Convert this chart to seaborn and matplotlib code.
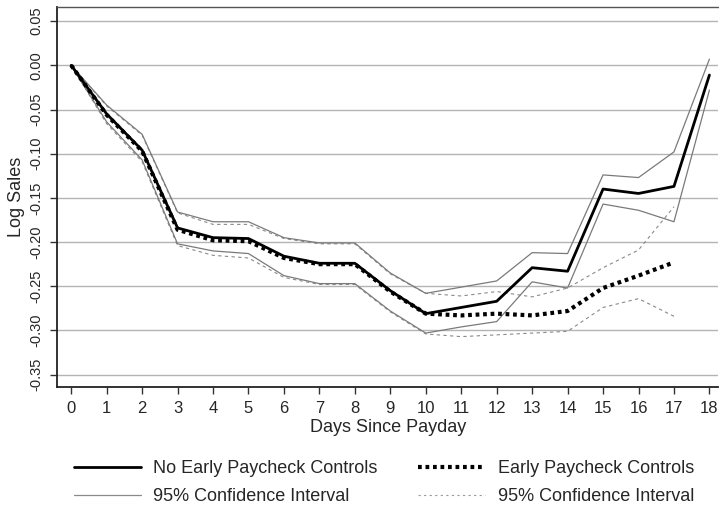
import numpy as np
import pandas as pd
import matplotlib
matplotlib.use("Agg")
import matplotlib.pyplot as plt
import seaborn as sns
from matplotlib.lines import Line2D

days = list(range(19))
no_early = [0.0, -0.055, -0.096, -0.184, -0.195, -0.196, -0.216, -0.224, -0.224, -0.255,
            -0.281, -0.274, -0.267, -0.229, -0.233, -0.140, -0.145, -0.137, -0.011]
no_early_hi = [0.0, -0.045, -0.078, -0.166, -0.177, -0.177, -0.195, -0.201, -0.201, -0.235,
               -0.258, -0.251, -0.244, -0.212, -0.213, -0.124, -0.127, -0.098, 0.007]
no_early_lo = [0.0, -0.064, -0.107, -0.202, -0.210, -0.213, -0.238, -0.247, -0.247, -0.278,
               -0.303, -0.296, -0.290, -0.245, -0.252, -0.157, -0.164, -0.177, -0.028]

days_e = list(range(18))
early = [0.0, -0.056, -0.097, -0.186, -0.198, -0.199, -0.218, -0.225, -0.225, -0.256,
         -0.281, -0.283, -0.281, -0.283, -0.278, -0.252, -0.238, -0.223]
early_hi = [0.0, -0.046, -0.079, -0.167, -0.180, -0.180, -0.196, -0.202, -0.202, -0.236,
            -0.258, -0.261, -0.256, -0.262, -0.252, -0.229, -0.209, -0.160]
early_lo = [0.0, -0.066, -0.109, -0.204, -0.215, -0.218, -0.240, -0.248, -0.248, -0.279,
            -0.304, -0.307, -0.305, -0.303, -0.301, -0.274, -0.264, -0.284]

yticks = [0.05, 0.00, -0.05, -0.10, -0.15, -0.20, -0.25, -0.30, -0.35]
ytick_labels = ["0.05", "0.00", "-0.05", "-0.10", "-0.15", "-0.20", "-0.25", "-0.30", "-0.35"]

sns.set_theme(style="white")
plt.rcParams['font.family'] = ['Liberation Sans', 'DejaVu Sans']

FS = 13

fig = plt.figure(figsize=(7.19, 5.08), dpi=100)
ax = fig.add_axes([57/719, 1 - 387/508, 1 - 57/719 - 0.001, (387 - 7)/508])

for y in yticks:
    ax.axhline(y, color="#b4b4b4", lw=1.0, zorder=0)

sns.lineplot(x=days_e, y=early_hi, ax=ax, color="#8a8a8a", lw=0.8, linestyle=(0, (3, 3)))
sns.lineplot(x=days_e, y=early_lo, ax=ax, color="#8a8a8a", lw=0.8, linestyle=(0, (3, 3)))
sns.lineplot(x=days, y=no_early_hi, ax=ax, color="#7a7a7a", lw=0.9)
sns.lineplot(x=days, y=no_early_lo, ax=ax, color="#7a7a7a", lw=0.9)
sns.lineplot(x=days, y=no_early, ax=ax, color="black", lw=2.0)
sns.lineplot(x=days_e, y=early, ax=ax, color="black", lw=3.0, linestyle=(0, (0.9, 0.9)))

ax.set_xlim(-0.4, 18.25)
ax.set_ylim(-0.364, 0.066)
ax.set_xticks(days)
ax.set_xticklabels([str(d) for d in days], fontsize=12)
ax.set_yticks(yticks)
ax.set_yticklabels(ytick_labels, fontsize=10.5, rotation=90, va="center")
ax.tick_params(axis="x", direction="out", length=5, width=1, color="#333333",
               bottom=True, pad=5)
ax.tick_params(axis="y", direction="out", length=5, width=1, color="#333333",
               left=True, pad=5)
ax.set_xlabel("Days Since Payday", fontsize=FS, labelpad=2)
ax.set_ylabel("Log Sales", fontsize=FS, labelpad=3)

for s in ["left", "bottom"]:
    ax.spines[s].set_color("#222222")
    ax.spines[s].set_linewidth(1.3)
ax.spines["top"].set_color("#555555")
ax.spines["top"].set_linewidth(1.0)
ax.spines["right"].set_visible(False)

handles = [
    Line2D([], [], color="black", lw=2.0),
    Line2D([], [], color="#8a8a8a", lw=0.9),
    Line2D([], [], color="black", lw=3.0, linestyle=(0, (0.9, 0.9))),
    Line2D([], [], color="#9a9a9a", lw=0.8, linestyle=(0, (2, 3))),
]
labels = ["No Early Paycheck Controls", "95% Confidence Interval",
          "Early Paycheck Controls", "95% Confidence Interval"]
fig.legend(handles, labels, ncol=2, loc="center", bbox_to_anchor=(0.534, 0.05),
           frameon=False, fontsize=FS, handlelength=3.7, columnspacing=2.25,
           labelspacing=0.6, handletextpad=0.7)

fig.savefig("out.png", dpi=100)
